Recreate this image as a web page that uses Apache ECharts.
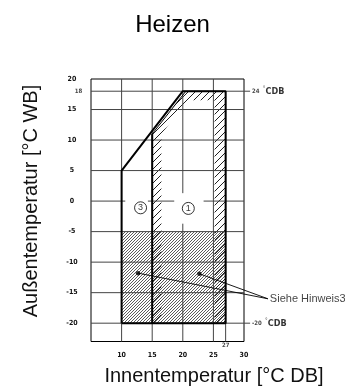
<!DOCTYPE html>
<html><head><meta charset="utf-8">
<script src="https://cdn.jsdelivr.net/npm/echarts@6/dist/echarts.min.js"></script>
<style>html,body{margin:0;padding:0;background:#fff}#c{width:345px;height:389px}</style>
</head><body><div id="c"></div>
<script>
// ---- data ----
const xTicks = [10, 15, 20, 25, 30];
const yTicks = [-20, -15, -10, -5, 0, 5, 10, 15, 20];
const extraXTick = 27;
const extraYTick = 18;
const region3Outline = [[10,-20],[10,5],[20,18],[27,18],[27,-20],[10,-20]];
const region1Edge = [[15,-20],[15,11]];
const region1Diag = [[15,11],[20.5,18]];
const region1Band = [[15,-20],[15,11],[20.5,18],[27,18],[27,-20],[25.2,-20],[25.2,16.5],[20.8,16.5],[16.5,11],[16.5,-20]];
const lowTempArea = [[10,-20],[10,-5],[27,-5],[27,-20]];
const hGrid = [[5,30,15],[5,30,10],[5,30,5],[5,30,-5],[5,30,-10],[5,30,-15],[5,31,18],[5,31,-20],[5,10.6,0],[14.3,18.6,0],[23.4,30,0]]; // [x1,x2,y]
const vGrid = [[10,-23,20],[15,-23,20],[25,-23,20],[27,-23,18],[20,-23,-3.7],[20,1.3,20]]; // [x,y1,y2]
const noteDots = [[12.7,-11.8],[22.7,-11.9]];
const noteTarget = [33.9,-16];
const zoneMarks = [{name:'3', value:[13.1,-1.1]},{name:'1', value:[20.9,-1.2]}];
const limitLabels = [{name:'24', value:[30,18]},{name:'-20', value:[30,-20]}];

// ---- patterns ----
function makeHatch(size, color, width){
  const c=document.createElement('canvas'); c.width=c.height=size;
  const g=c.getContext('2d'); g.strokeStyle=color; g.lineWidth=width;
  g.beginPath();
  g.moveTo(-1,size+1); g.lineTo(size+1,-1);
  g.moveTo(-1,1); g.lineTo(1,-1);
  g.moveTo(size-1,size+1); g.lineTo(size+1,size-1);
  g.stroke();
  return c;
}
const finePattern = {image: makeHatch(3,'#4a4a4a',0.9), repeat:'repeat'};
const coarsePattern = {image: makeHatch(7,'#222',1), repeat:'repeat'};

const narrow = '"Liberation Sans Narrow","DejaVu Sans Condensed","Arial Narrow",sans-serif';
const sans = '"Liberation Sans",Arial,sans-serif';

const segData = hGrid.map(h=>[h[0],h[2],h[1],h[2]]).concat(vGrid.map(v=>[v[0],v[1],v[0],v[2]]));
const leaderData = noteDots.map(d=>[d[0],d[1],noteTarget[0],noteTarget[1]]);

function polySeries(points, pattern){
  return {type:'custom', data:[[0,0]], silent:true, z:1,
    renderItem:(params, api)=>({type:'polygon', shape:{points: points.map(p=>api.coord(p))}, style:{fill: pattern}})};
}
function segSeries(data, color, width, z){
  return {type:'custom', data:data, silent:true, z:z,
    renderItem:(params, api)=>{
      const p1=api.coord([api.value(0),api.value(1)]), p2=api.coord([api.value(2),api.value(3)]);
      return {type:'line', shape:{x1:p1[0],y1:p1[1],x2:p2[0],y2:p2[1]}, style:{stroke:color, lineWidth:width}};
    }};
}
function lineSeries(data, width, z){
  return {type:'line', data:data, symbol:'none', clip:false, silent:true, z:z||4,
    lineStyle:{color:'#000', width:width}};
}

const chart = echarts.init(document.getElementById('c'));
chart.setOption({
  animation:false,
  title:{text:'Heizen', left:'center', top:8, textStyle:{fontFamily:sans, fontSize:24, fontWeight:'normal', color:'#000'}},
  grid:{left:91, top:79, width:153, height:262.5, show:true, borderColor:'#000', borderWidth:1, backgroundColor:'transparent'},
  xAxis:{type:'value', min:5, max:30, axisLine:{show:false}, axisTick:{show:false}, splitLine:{show:false},
    axisLabel:{customValues:xTicks, margin:10, fontFamily:narrow, fontWeight:'bold', fontSize:7, color:'#111'}},
  yAxis:{type:'value', min:-23, max:20, axisLine:{show:false}, axisTick:{show:false}, splitLine:{show:false},
    axisLabel:{customValues:yTicks, margin:19, align:'center', fontFamily:narrow, fontWeight:'bold', fontSize:7, color:'#111'}},
  graphic:[
    {type:'text', x:31, y:201, rotation:Math.PI/2, style:{text:'Außentemperatur [°C WB]', x:0, y:0, align:'center', verticalAlign:'middle', font:'20px '+sans, fill:'#111'}},
    {type:'text', x:214, y:376, style:{text:'Innentemperatur [°C DB]', align:'center', verticalAlign:'middle', font:'20px '+sans, fill:'#111'}}
  ],
  series:[
    polySeries(lowTempArea, finePattern),
    polySeries(region1Band, coarsePattern),
    segSeries(segData, '#444', 1, 2),
    lineSeries(region3Outline, 2),
    lineSeries(region1Edge, 2),
    lineSeries(region1Diag, 1),
    segSeries(leaderData, '#000', 0.9, 4),
    {type:'scatter', data:noteDots, symbol:'circle', symbolSize:4.5, itemStyle:{color:'#000'}, z:5, silent:true},
    {type:'scatter', data:zoneMarks, symbol:'circle', symbolSize:12, z:5, silent:true,
      itemStyle:{color:'#fff', borderColor:'#000', borderWidth:1},
      label:{show:true, position:'inside', formatter:'{b}', fontFamily:sans, fontSize:9, color:'#000'}},
    {type:'scatter', data:[{name:'Siehe Hinweis3', value:noteTarget}], symbolSize:0, z:5, silent:true, clip:false,
      label:{show:true, position:'right', distance:2, formatter:'{b}', fontFamily:sans, fontSize:11, color:'#111'}},
    {type:'scatter', data:limitLabels, symbolSize:0, z:5, silent:true, clip:false,
      label:{show:true, position:'right', distance:8, formatter:'{a|{b}} {s|°}{c|CDB}',
        rich:{a:{fontFamily:narrow, fontWeight:'bold', fontSize:6, color:'#111'},
              s:{fontFamily:narrow, fontSize:6, color:'#111', verticalAlign:'top'},
              c:{fontFamily:narrow, fontWeight:'bold', fontSize:9, color:'#000'}}}},
    {type:'scatter', data:[{name:String(extraYTick), value:[5,extraYTick]}], symbolSize:0, z:5, silent:true,
      label:{show:true, position:'inside', offset:[-12.5,0], formatter:'{b}', fontFamily:narrow, fontWeight:'bold', fontSize:6, color:'#111'}},
    {type:'scatter', data:[{name:String(extraXTick), value:[extraXTick,-23]}], symbolSize:0, z:5, silent:true,
      label:{show:true, position:'inside', offset:[0,4], formatter:'{b}', fontFamily:narrow, fontWeight:'bold', fontSize:6, color:'#111'}}
  ]
});
</script></body></html>
